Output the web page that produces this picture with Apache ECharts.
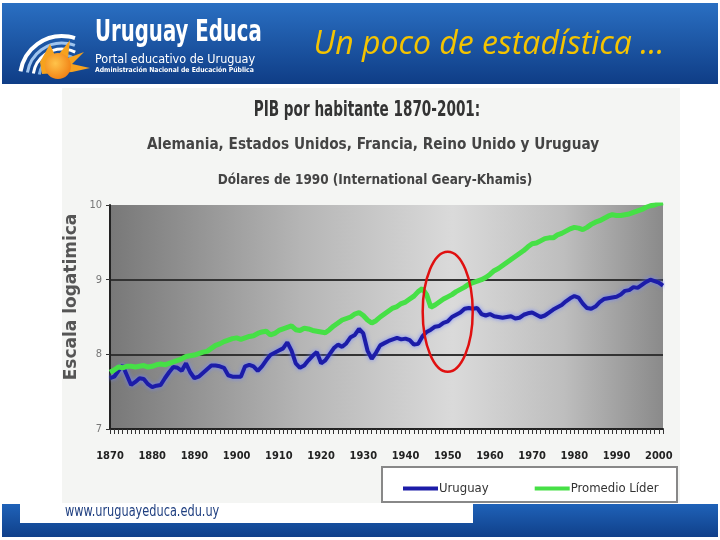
<!DOCTYPE html>
<html>
<head>
<meta charset="utf-8">
<script src="https://cdn.jsdelivr.net/npm/echarts@6/dist/echarts.min.js"></script>
<style>
  html, body { margin: 0; padding: 0; background: #fff; }
  #chartmain { width: 720px; height: 540px; }
</style>
</head>
<body>
<div id="chartmain"></div>
<script>
// años 1870-2001
var years = [];
for (var y = 1870; y <= 2001; y++) { years.push(String(y)); }

// PIB por habitante, escala logarítmica
var uruguay = [
  7.68, 7.70, 7.78, 7.85, 7.72, 7.59, 7.63, 7.68, 7.67, 7.60,
  7.56, 7.58, 7.59, 7.68, 7.76, 7.83, 7.82, 7.78, 7.88, 7.76,
  7.68, 7.70, 7.75, 7.80, 7.85, 7.85, 7.84, 7.82, 7.72, 7.70,
  7.70, 7.70, 7.84, 7.86, 7.84, 7.78, 7.84, 7.92, 7.99, 8.02,
  8.05, 8.08, 8.16, 8.05, 7.88, 7.82, 7.85, 7.92, 7.98, 8.03,
  7.88, 7.92, 8.00, 8.08, 8.13, 8.10, 8.15, 8.23, 8.26, 8.34,
  8.28, 8.05, 7.94, 8.02, 8.12, 8.15, 8.18, 8.20, 8.22, 8.20,
  8.21, 8.19, 8.13, 8.14, 8.24, 8.30, 8.33, 8.37, 8.38, 8.42,
  8.44, 8.50, 8.53, 8.56, 8.61, 8.62, 8.61, 8.62, 8.54, 8.52,
  8.54, 8.51, 8.50, 8.49, 8.50, 8.51, 8.48, 8.49, 8.53, 8.55,
  8.56, 8.53, 8.50, 8.52, 8.56, 8.60, 8.63, 8.66, 8.71, 8.75,
  8.78, 8.76, 8.68, 8.62, 8.61, 8.64, 8.70, 8.74, 8.75, 8.76,
  8.77, 8.80, 8.85, 8.86, 8.90, 8.89, 8.93, 8.97, 9.00, 8.98,
  8.96, 8.92
];
var promedioLider = [
  7.76, 7.79, 7.83, 7.82, 7.84, 7.84, 7.83, 7.84, 7.85, 7.83,
  7.84, 7.86, 7.87, 7.86, 7.88, 7.90, 7.92, 7.94, 7.97, 7.98,
  7.99, 8.01, 8.03, 8.04, 8.08, 8.12, 8.14, 8.17, 8.19, 8.21,
  8.22, 8.20, 8.22, 8.24, 8.25, 8.28, 8.30, 8.31, 8.26, 8.28,
  8.32, 8.34, 8.36, 8.38, 8.33, 8.32, 8.35, 8.34, 8.32, 8.31,
  8.30, 8.29, 8.33, 8.38, 8.42, 8.46, 8.48, 8.50, 8.54, 8.56,
  8.52, 8.46, 8.42, 8.45, 8.50, 8.54, 8.58, 8.62, 8.64, 8.68,
  8.70, 8.74, 8.78, 8.84, 8.88, 8.80, 8.63, 8.66, 8.70, 8.74,
  8.77, 8.80, 8.84, 8.87, 8.90, 8.94, 8.96, 8.98, 9.00, 9.03,
  9.07, 9.12, 9.15, 9.19, 9.23, 9.27, 9.31, 9.35, 9.39, 9.44,
  9.48, 9.49, 9.52, 9.55, 9.56, 9.56, 9.60, 9.62, 9.65, 9.68,
  9.70, 9.69, 9.67, 9.70, 9.74, 9.77, 9.79, 9.82, 9.85, 9.87,
  9.86, 9.86, 9.87, 9.88, 9.90, 9.92, 9.94, 9.97, 9.99, 10.00,
  10.02, 10.03
];
var seriesNames = ['Uruguay', 'Promedio Líder'];

var narrow = "'Liberation Sans Narrow', 'DejaVu Sans Condensed', 'Arial Narrow', sans-serif";

var myChart = echarts.init(document.getElementById('chartmain'));

var option = {
  backgroundColor: '#ffffff',
  animation: false,
  grid: {
    left: 110, right: 57, top: 205, bottom: 111,
    show: true,
    borderWidth: 0,
    backgroundColor: new echarts.graphic.LinearGradient(0, 0, 1, 0, [
      { offset: 0, color: '#787878' },
      { offset: 0.35, color: '#b6b6b6' },
      { offset: 0.62, color: '#dadada' },
      { offset: 0.82, color: '#bebebe' },
      { offset: 1, color: '#8a8a8a' }
    ])
  },
  legend: {
    data: seriesNames,
    left: 398, top: 477,
    itemGap: 46,
    itemWidth: 35, itemHeight: 4,
    icon: 'rect',
    textStyle: { fontFamily: narrow, fontSize: 13, color: '#333', padding: [0, 0, 0, -4] }
  },
  xAxis: {
    type: 'category',
    data: years,
    boundaryGap: false,
    axisLine: { lineStyle: { color: '#222', width: 2 } },
    axisTick: { interval: 0, length: 5, lineStyle: { color: '#333' } },
    axisLabel: {
      interval: function (i, v) { return Number(v) % 10 === 0; },
      margin: 22,
      fontFamily: narrow, fontWeight: 'bold', fontSize: 11, color: '#222'
    },
    splitLine: { show: false }
  },
  yAxis: {
    type: 'value',
    min: 7, max: 10, interval: 1,
    axisLine: { show: true, lineStyle: { color: '#222', width: 2 } },
    axisTick: { show: true, length: 4, lineStyle: { color: '#333' } },
    axisLabel: { fontFamily: narrow, fontSize: 11, color: '#777', margin: 8 },
    splitLine: {
      show: true,
      lineStyle: { color: ['rgba(0,0,0,0)', '#333', '#333', 'rgba(0,0,0,0)'], width: 2 }
    }
  },
  series: [
    {
      name: 'Uruguay',
      type: 'line',
      data: uruguay,
      showSymbol: false,
      symbol: 'none',
      color: '#1c1ca8',
      lineStyle: { width: 4, color: '#1c1ca8', shadowColor: 'rgba(110,130,255,0.9)', shadowBlur: 4 }
    },
    {
      name: 'Promedio Líder',
      type: 'line',
      data: promedioLider,
      showSymbol: false,
      symbol: 'none',
      color: '#46e046',
      lineStyle: { width: 5, color: '#46e046' }
    }
  ],
  graphic: [
    // cabecera
    { type: 'rect', z: -10, shape: { x: 2, y: 3, width: 716, height: 81 },
      style: { fill: new echarts.graphic.LinearGradient(0, 0, 0, 1, [
        { offset: 0, color: '#2a6fc2' }, { offset: 1, color: '#0f3d86' }]) } },
    // logo
    { type: 'arc', shape: { cx: 62, cy: 78, r: 42, startAngle: Math.PI * 1.05, endAngle: Math.PI * 1.6 },
      style: { stroke: '#ffffff', lineWidth: 4, fill: null } },
    { type: 'arc', shape: { cx: 62, cy: 78, r: 35, startAngle: Math.PI * 1.05, endAngle: Math.PI * 1.62 },
      style: { stroke: '#9fc4ee', lineWidth: 3, fill: null } },
    { type: 'arc', shape: { cx: 62, cy: 78, r: 29, startAngle: Math.PI * 1.05, endAngle: Math.PI * 1.65 },
      style: { stroke: '#ffffff', lineWidth: 3, fill: null } },
    { type: 'arc', shape: { cx: 62, cy: 78, r: 23, startAngle: Math.PI * 1.05, endAngle: Math.PI * 1.7 },
      style: { stroke: '#7fb0e6', lineWidth: 3, fill: null } },
    { type: 'polygon', shape: { points: [[40, 62], [50, 44], [56, 58], [70, 40], [68, 58], [84, 52], [72, 64], [90, 68], [72, 72], [42, 74]] },
      style: { fill: '#f6a21e' } },
    { type: 'circle', shape: { cx: 58, cy: 66, r: 13 },
      style: { fill: new echarts.graphic.RadialGradient(0.4, 0.4, 0.7, [
        { offset: 0, color: '#ffc34a' }, { offset: 1, color: '#f07c10' }]) } },
    { type: 'text', x: 95, y: 33, scaleX: 0.73, style: { text: 'Uruguay Educa', fill: '#ffffff',
      font: 'bold 30px ' + narrow, textVerticalAlign: 'middle' } },
    { type: 'text', x: 95, y: 60, scaleX: 1.0, style: { text: 'Portal educativo de Uruguay', fill: '#ffffff',
      font: '12.5px ' + narrow, textVerticalAlign: 'middle' } },
    { type: 'text', x: 95, y: 70, style: { text: 'Administración Nacional de Educación Pública', fill: '#ffffff',
      font: 'bold 6.8px ' + narrow, textVerticalAlign: 'middle' } },
    { type: 'text', x: 489, y: 45, style: { text: 'Un poco de estadística …', fill: '#f5c400',
      font: 'italic 32px "Open Sans", Lato, sans-serif', textAlign: 'center', textVerticalAlign: 'middle' } },
    // fondo de la imagen del gráfico
    { type: 'rect', z: -10, shape: { x: 62, y: 88, width: 618, height: 415 }, style: { fill: '#f4f5f3' } },
    { type: 'text', x: 367, y: 111, scaleX: 0.72, style: { text: 'PIB por habitante 1870-2001:', fill: '#333',
      font: 'bold 21px ' + narrow, textAlign: 'center', textVerticalAlign: 'middle' } },
    { type: 'text', x: 373, y: 145, scaleX: 0.95, style: { text: 'Alemania, Estados Unidos, Francia, Reino Unido y Uruguay', fill: '#444',
      font: 'bold 16px ' + narrow, textAlign: 'center', textVerticalAlign: 'middle' } },
    { type: 'text', x: 375, y: 180, scaleX: 0.96, style: { text: 'Dólares de 1990 (International Geary-Khamis)', fill: '#444',
      font: 'bold 14px ' + narrow, textAlign: 'center', textVerticalAlign: 'middle' } },
    // título del eje
    { type: 'text', x: 72, y: 297, rotation: Math.PI / 2, style: { text: 'Escala logatimica', fill: '#555',
      font: 'bold 17px "DejaVu Sans", sans-serif', textAlign: 'center', textVerticalAlign: 'middle' } },
    // caja de la leyenda
    { type: 'rect', z: -5, shape: { x: 382, y: 467, width: 295, height: 35 },
      style: { fill: '#ffffff', stroke: '#888', lineWidth: 2 } },
    // pie
    { type: 'rect', z: -10, shape: { x: 2, y: 504, width: 716, height: 33 },
      style: { fill: new echarts.graphic.LinearGradient(0, 0, 0, 1, [
        { offset: 0, color: '#1f62b8' }, { offset: 1, color: '#10408a' }]) } },
    { type: 'rect', z: -9, shape: { x: 20, y: 503, width: 453, height: 20 }, style: { fill: '#ffffff' } },
    { type: 'text', x: 65, y: 512, scaleX: 0.84, style: { text: 'www.uruguayeduca.edu.uy', fill: '#1f3f80',
      font: '15px ' + narrow, textVerticalAlign: 'middle' } }
  ]
};

myChart.setOption(option);

// elipse roja alrededor de 1950
var c = myChart.convertToPixel({ gridIndex: 0 }, ['1950', 8.57]);
myChart.setOption({
  graphic: option.graphic.concat([
    { type: 'ellipse', z: 100, shape: { cx: c[0], cy: c[1], rx: 25, ry: 60 },
      style: { fill: null, stroke: '#e01010', lineWidth: 2.5 } }
  ])
});
</script>
</body>
</html>
